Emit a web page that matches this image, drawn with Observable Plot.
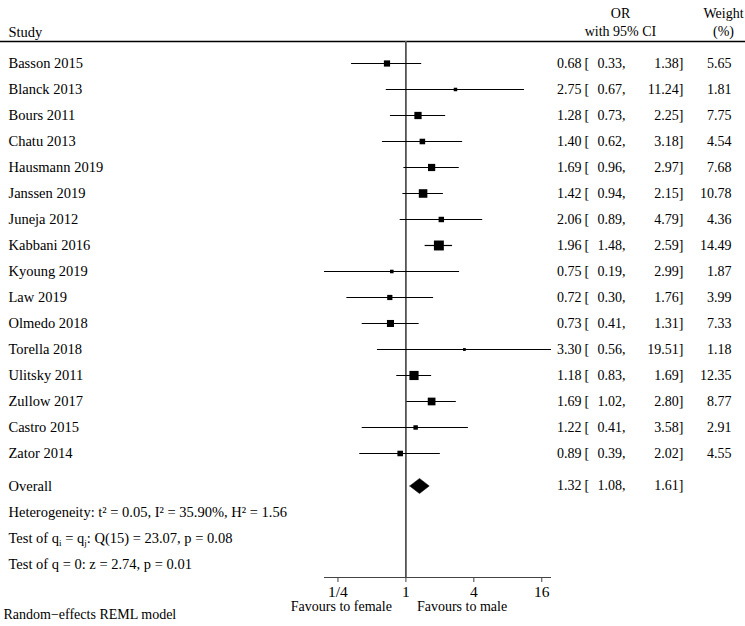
<!DOCTYPE html>
<html>
<head>
<meta charset="utf-8">
<script src="https://cdn.jsdelivr.net/npm/d3@7"></script>
<script src="https://cdn.jsdelivr.net/npm/@observablehq/plot@0.6"></script>
<style>
  html, body { margin: 0; padding: 0; background: #fff; }
  #chart svg { display: block; overflow: visible; }
</style>
</head>
<body>
<div id="chart"></div>
<script>
// ---- data ----
const studies = ["Basson 2015", "Blanck 2013", "Bours 2011", "Chatu 2013", "Hausmann 2019",
  "Janssen 2019", "Juneja 2012", "Kabbani 2016", "Kyoung 2019", "Law 2019", "Olmedo 2018",
  "Torella 2018", "Ulitsky 2011", "Zullow 2017", "Castro 2015", "Zator 2014"];
const oddsRatio = [0.68, 2.75, 1.28, 1.40, 1.69, 1.42, 2.06, 1.96, 0.75, 0.72, 0.73, 3.30, 1.18, 1.69, 1.22, 0.89];
const ciLower   = [0.33, 0.67, 0.73, 0.62, 0.96, 0.94, 0.89, 1.48, 0.19, 0.30, 0.41, 0.56, 0.83, 1.02, 0.41, 0.39];
const ciUpper   = [1.38, 11.24, 2.25, 3.18, 2.97, 2.15, 4.79, 2.59, 2.99, 1.76, 1.31, 19.51, 1.69, 2.80, 3.58, 2.02];
const weights   = [5.65, 1.81, 7.75, 4.54, 7.68, 10.78, 4.36, 14.49, 1.87, 3.99, 7.33, 1.18, 12.35, 8.77, 2.91, 4.55];
const overallLabel = "Overall";
const overallOR = 1.32, overallLower = 1.08, overallUpper = 1.61;
const statLines = [
  "Heterogeneity: t² = 0.05, I² = 35.90%, H² = 1.56",
  "Test of qᵢ = qⱼ: Q(15) = 23.07, p = 0.08",
  "Test of q = 0: z = 2.74, p = 0.01"
];
const tickValues = [0.25, 1, 4, 16];
const tickLabels = ["1/4", "1", "4", "16"];
const leftLabel = "Favours to female";
const rightLabel = "Favours to male";
const note = "Random\u2212effects REML model";

// ---- derived table ----
const rows = studies.map((s, i) => ({
  study: s, i, or: oddsRatio[i], lo: ciLower[i], hi: ciUpper[i], w: weights[i]
}));
const fmt = d3.format(".2f");
const overallRow = rows.length + 0.25;
const statRows = statLines.map((t, k) => ({ t, i: overallRow + 1 + k }));
const yTop = -0.846, yBottom = 19.77;
const diamondH = 0.29;
const diamond = [
  { x: overallLower, y: overallRow },
  { x: overallOR, y: overallRow - diamondH },
  { x: overallUpper, y: overallRow },
  { x: overallOR, y: overallRow + diamondH },
  { x: overallLower, y: overallRow }
];
const ciRows = [...rows, { i: overallRow, or: overallOR, lo: overallLower, hi: overallUpper, w: null, study: overallLabel }];
const xMin = d3.min(ciLower), xMax = d3.max(ciUpper);

const font = "Liberation Serif, Times New Roman, serif";
const fs = 14;
const fsL = 14.5;

const chart = Plot.plot({
  width: 745,
  height: 626,
  marginTop: 41,
  marginBottom: 49,
  marginLeft: 0,
  marginRight: 0,
  style: { fontFamily: font, fontSize: "14px", color: "#000", background: "#fff" },
  x: { type: "log", base: 2, domain: [xMin, xMax], range: [324, 551] },
  y: { domain: [yTop, yBottom], reverse: true, axis: null },
  r: { type: "sqrt", domain: [0, d3.max(weights)], range: [0, 5.6] },
  marks: [
    Plot.frame({ anchor: "top", stroke: "#000", strokeWidth: 1.3 }),
    Plot.ruleX([1], { stroke: "#555", strokeWidth: 1.8 }),
    Plot.ruleY([yBottom], { x1: xMin, x2: xMax, stroke: "#444", strokeWidth: 1 }),
    Plot.axisX({
      ticks: tickValues,
      tickFormat: (d) => tickLabels[tickValues.indexOf(d)],
      tickSize: 5, tickPadding: 3, fontSize: 15.5, stroke: "#444", label: null
    }),
    // confidence intervals
    Plot.ruleY(rows, { y: "i", x1: "lo", x2: "hi", stroke: "#000", strokeWidth: 1.2 }),
    Plot.dot(rows, { x: "or", y: "i", r: "w", symbol: "square", fill: "#000", stroke: null }),
    Plot.line(diamond, { x: "x", y: "y", fill: "#000", stroke: "#000", strokeWidth: 0.5 }),
    // left text
    Plot.text(ciRows, { y: "i", text: "study", frameAnchor: "left", dx: 8, textAnchor: "start", fontSize: fsL }),
    Plot.text(statRows, { y: "i", text: "t", frameAnchor: "left", dx: 8, textAnchor: "start", fontSize: fsL }),
    // right columns
    Plot.text(ciRows, { y: "i", text: (d) => fmt(d.or), frameAnchor: "left", dx: 581, textAnchor: "end", fontSize: fs }),
    Plot.text(ciRows, { y: "i", text: () => "[", frameAnchor: "left", dx: 584, textAnchor: "start", fontSize: fs }),
    Plot.text(ciRows, { y: "i", text: (d) => fmt(d.lo) + ",", frameAnchor: "left", dx: 625, textAnchor: "end", fontSize: fs }),
    Plot.text(ciRows, { y: "i", text: (d) => fmt(d.hi) + "]", frameAnchor: "left", dx: 683, textAnchor: "end", fontSize: fs }),
    Plot.text(rows, { y: "i", text: (d) => fmt(d.w), frameAnchor: "left", dx: 731, textAnchor: "end", fontSize: fs }),
    // headers
    Plot.text(["Study"], { frameAnchor: "top-left", dx: 8, dy: -15, textAnchor: "start", fontSize: fsL }),
    Plot.text(["OR"], { frameAnchor: "top-left", dx: 620, dy: -33, textAnchor: "middle", fontSize: fs }),
    Plot.text(["with 95% CI"], { frameAnchor: "top-left", dx: 620, dy: -15, textAnchor: "middle", fontSize: fs }),
    Plot.text(["Weight"], { frameAnchor: "top-left", dx: 723, dy: -33, textAnchor: "middle", fontSize: fs }),
    Plot.text(["(%)"], { frameAnchor: "top-left", dx: 723, dy: -15, textAnchor: "middle", fontSize: fs }),
    // bottom labels
    Plot.text([leftLabel], { x: 1, frameAnchor: "bottom", dx: -14, dy: 33, textAnchor: "end", fontSize: fs }),
    Plot.text([rightLabel], { x: 1, frameAnchor: "bottom", dx: 11, dy: 33, textAnchor: "start", fontSize: fs }),
    Plot.text([note], { frameAnchor: "bottom-left", dx: 3, dy: 41, textAnchor: "start", fontSize: fs })
  ]
});

// subscripts for the test line
chart.querySelectorAll("text").forEach((t) => {
  if (t.textContent.startsWith("Test of qᵢ")) {
    const rest = t.textContent.replace("Test of qᵢ = qⱼ", "");
    t.textContent = "";
    const ns = "http://www.w3.org/2000/svg";
    const add = (s, sub) => {
      const sp = document.createElementNS(ns, "tspan");
      sp.textContent = s;
      if (sub) { sp.setAttribute("font-size", "9"); sp.setAttribute("dy", "3"); }
      else if (sub === false) { sp.setAttribute("dy", "-3"); }
      t.appendChild(sp);
    };
    add("Test of q", null); add("i", true); add(" = q", false); add("j", true); add(rest, false);
  }
});

document.getElementById("chart").appendChild(chart);
</script>
</body>
</html>
